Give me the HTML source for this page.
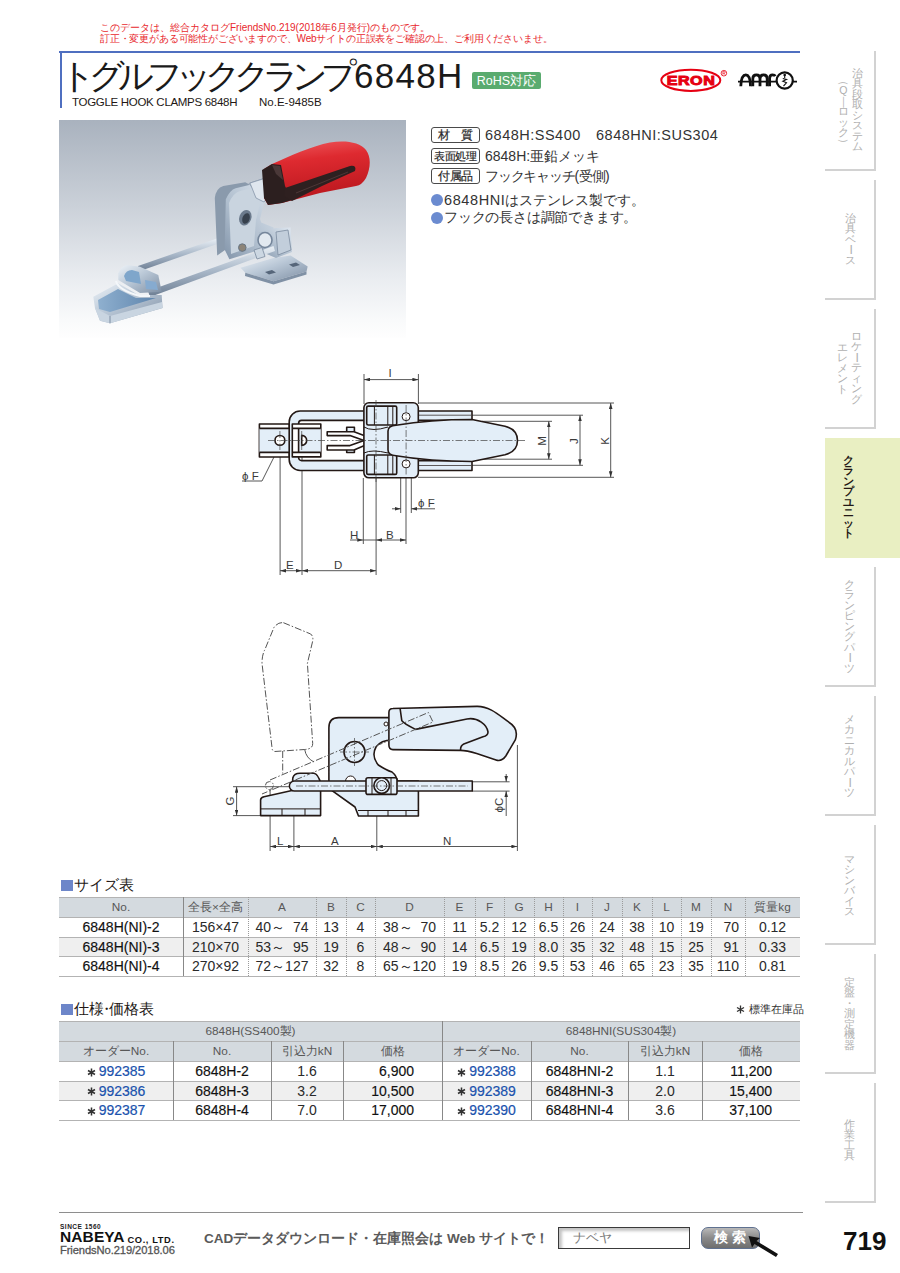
<!DOCTYPE html>
<html><head><meta charset="utf-8">
<style>
*{margin:0;padding:0;box-sizing:border-box}
html,body{width:900px;height:1273px;background:#fff;overflow:hidden}
body{position:relative;font-family:"Liberation Sans",sans-serif;color:#231815}
.a{position:absolute;white-space:nowrap}
.notice{left:100px;top:21.5px;font-size:10px;line-height:11.5px;color:#e8282d}
.title{left:60px;top:56px;font-size:35px;line-height:40px;color:#1a1a1a;letter-spacing:-0.5px}
.sub{left:72px;top:95px;font-size:11.5px;line-height:14px;color:#231815}
.rohs{left:472px;top:72px;width:69px;height:17px;background:#5aab6f;border-radius:2px;color:#fff;font-size:12.5px;line-height:19px;text-align:center}
.tab{position:absolute;left:825px;width:51px;height:120px;border-right:2px solid #d2d2d2;border-bottom:2px solid #d2d2d2}
.tab.on{width:75px;border:none;background:#e9efc2}
.vt{position:absolute;writing-mode:vertical-rl;font-size:10.5px;line-height:13px;color:#b4b4b4;white-space:nowrap}
.lbl{position:absolute;left:431px;width:49px;height:16px;border:1.4px solid #4a4a4a;border-radius:3px;font-size:11.5px;line-height:14.5px;text-align:center;color:#2a2a2a;letter-spacing:-0.5px;-webkit-text-stroke:0.2px #2a2a2a}
.val{position:absolute;left:485px;font-size:14px;line-height:16px;color:#333;white-space:nowrap}
.bul{position:absolute;left:431px;width:12px;height:12px;border-radius:50%;background:#6b8bd0}
.sech{position:absolute;left:61px;font-size:15px;line-height:16px;color:#231815;white-space:nowrap}
.sech i{display:inline-block;width:11.5px;height:11.5px;background:#6d86c9;vertical-align:-1px;margin-right:1px}
table{position:absolute;border-collapse:collapse;table-layout:fixed}
td{padding:0}
.th{font-size:11.8px;line-height:20px;text-align:center;color:#585858}
.td{font-size:14px;line-height:20px;text-align:center;color:#2a2a2a}
.b{color:#111;-webkit-text-stroke:0.15px #111}
.ast{color:#333}
.blu{color:#1a52ad;-webkit-text-stroke:0.2px #1a52ad}
.stk{position:absolute;font-size:10.6px;line-height:10.45px;color:#b0b0b0;text-align:center;width:14px}
</style></head><body>

<div class="a notice">このデータは、総合カタログFriendsNo.219(2018年6月発行)のものです。<br><span style="letter-spacing:-0.17px">訂正・変更がある可能性がございますので、Webサイトの正誤表をご確認の上、ご利用くださいませ。</span></div>

<div class="a" style="left:59px;top:51px;width:741px;height:2px;background:#4f6fc0"></div>
<div class="a" style="left:60px;top:51px;width:2px;height:57px;background:#4f6fc0"></div>

<div class="a title"><span style="letter-spacing:-7px">トグルフッククランプ</span><span style="font-size:35px;letter-spacing:1.3px;position:absolute;left:294px;top:0">6848H</span></div>
<div class="a rohs">RoHS対応</div>
<svg class="a" style="left:650px;top:60px" width="155" height="40" viewBox="650 60 155 40">
<ellipse cx="690.8" cy="80.3" rx="29.5" ry="10.6" fill="#fff" stroke="#e60012" stroke-width="2"/>
<text x="691" y="84.8" text-anchor="middle" font-family="Liberation Sans, sans-serif" font-weight="bold" font-size="12.4" fill="#e60012" stroke="#e60012" stroke-width="0.9" transform="translate(691 0) scale(1.3 1) translate(-691 0)" letter-spacing="0.4">ERON</text>
<circle cx="723.9" cy="73.2" r="2.8" fill="none" stroke="#e60012" stroke-width="0.8"/>
<path d="M722.9,74.8 V71.6 H724.2 Q725.1,71.6 725.1,72.5 Q725.1,73.3 724.2,73.3 H722.9 M724.2,73.3 L725.1,74.8" fill="none" stroke="#e60012" stroke-width="0.6"/>
<g fill="none" stroke="#111" stroke-width="2.8" stroke-linecap="butt">
<path d="M740.8,86.3 Q741.2,74.8 745.8,74.8 Q750.3,74.8 750.5,86.3"/>
<path d="M752.8,86.3 V78.8 Q752.8,74.8 756.4,74.8 Q760,74.8 760,78.8 V86.3 M760,78.8 Q760,74.8 763.6,74.8 Q767.2,74.8 767.2,78.8 V86.3"/>
<path d="M769.6,86.3 V78.5 Q769.6,74.8 772.6,74.8 Q774.6,74.8 775.3,76.2"/>
<circle cx="784.7" cy="80.5" r="8.1" stroke-width="2.2"/>
</g>
<path d="M738,81.7 H777 M792.5,81.7 H797" stroke="#111" stroke-width="1.8"/>
<circle cx="784.7" cy="75" r="1.3" fill="#111"/>
<path d="M784.7,76 V78 M782.8,78.5 L786.5,79.5 L782.8,81.2 L786.5,82.8 L783.5,86" fill="none" stroke="#111" stroke-width="1.1"/>
</svg>
<div class="a sub" style="letter-spacing:-0.3px">TOGGLE HOOK CLAMPS 6848H</div><div class="a sub" style="left:259px">No.E-9485B</div>

<!-- tabs -->
<div class="tab" style="top:51px"></div>
<div class="tab" style="top:180px"></div>
<div class="tab" style="top:309px"></div>
<div class="tab on" style="top:438px"></div>
<div class="tab" style="top:567px"></div>
<div class="tab" style="top:696px"></div>
<div class="tab" style="top:825px"></div>
<div class="tab" style="top:954px"></div>
<div class="tab" style="top:1083px"></div>

<div class="stk" style="left:850.5px;top:68px">治<br>具<br>段<br>取<br>シ<br>ス<br>テ<br>ム</div>
<div class="stk" style="left:836.3px;top:75px"><span style="display:inline-block;transform:rotate(90deg)">（</span><br>Q<br><span style="display:inline-block;">｜</span><br>ロ<br>ッ<br>ク<br><span style="display:inline-block;transform:rotate(90deg)">）</span></div>
<div class="stk" style="left:843.7px;top:213px">治<br>具<br>ベ<br><span style="display:inline-block;transform:rotate(90deg)">ー</span><br>ス</div>
<div class="stk" style="left:849.7px;top:331px">ロ<br>ケ<br><span style="display:inline-block;transform:rotate(90deg)">ー</span><br>テ<br>ィ<br>ン<br>グ</div>
<div class="stk" style="left:835.2px;top:342px">エ<br>レ<br>メ<br>ン<br>ト</div>
<div class="stk" style="left:841.6px;top:455px;color:#231815;font-weight:bold">ク<br>ラ<br>ン<br>プ<br>ユ<br>ニ<br>ッ<br>ト</div>
<div class="stk" style="left:842.3px;top:579px">ク<br>ラ<br>ン<br>ピ<br>ン<br>グ<br>パ<br><span style="display:inline-block;transform:rotate(90deg)">ー</span><br>ツ</div>
<div class="stk" style="left:842.6px;top:714px">メ<br>カ<br>ニ<br>カ<br>ル<br>パ<br><span style="display:inline-block;transform:rotate(90deg)">ー</span><br>ツ</div>
<div class="stk" style="left:842.6px;top:854px">マ<br>シ<br>ン<br>バ<br>イ<br>ス</div>
<div class="stk" style="left:842.6px;top:977px">定<br>盤<br>・<br>測<br>定<br>機<br>器</div>
<div class="stk" style="left:842.6px;top:1119px">作<br>業<br>工<br>具</div>

<!-- spec -->
<div class="lbl" style="top:127px">材　質</div>
<div class="lbl" style="top:148px;font-size:10.6px;letter-spacing:-0.3px">表面処理</div>
<div class="lbl" style="top:168px">付属品</div>
<div class="val" style="top:127px;font-size:14.5px;letter-spacing:0.5px">6848H:SS400</div><div class="val" style="left:596px;top:127px;font-size:14.5px;letter-spacing:0.5px">6848HNI:SUS304</div>
<div class="val" style="top:148px">6848H:亜鉛メッキ</div>
<div class="val" style="top:168px;letter-spacing:-1.2px">フックキャッチ<span style="letter-spacing:0">(</span>受側<span>)</span></div>
<div class="bul" style="top:194.2px"></div>
<div class="bul" style="top:211.6px"></div>
<div class="val" style="left:444px;top:192px"><span style="font-size:14.5px;letter-spacing:0.6px">6848HNI</span>はステンレス製です。</div>
<div class="val" style="left:444px;top:209px;letter-spacing:-0.2px">フックの長さは調節できます。</div>

<svg class="a" style="left:59px;top:120px" width="347" height="218" viewBox="59 120 347 218">
<defs>
<linearGradient id="bg" x1="0" y1="0" x2="0" y2="1">
<stop offset="0" stop-color="#a9b2be"/><stop offset="0.4" stop-color="#cbd1d9"/><stop offset="0.72" stop-color="#e9ecf0"/><stop offset="0.92" stop-color="#f9fafb"/><stop offset="1" stop-color="#fefefe"/>
</linearGradient>
<linearGradient id="red" x1="0" y1="0" x2="0.2" y2="1">
<stop offset="0" stop-color="#ef5a5e"/><stop offset="0.35" stop-color="#de2a30"/><stop offset="1" stop-color="#b8161d"/>
</linearGradient>
<linearGradient id="met" x1="0" y1="0" x2="1" y2="1">
<stop offset="0" stop-color="#eef3f8"/><stop offset="0.45" stop-color="#b9c7d6"/><stop offset="1" stop-color="#7d8ea3"/>
</linearGradient>
<linearGradient id="met3" x1="1" y1="0" x2="0" y2="1">
<stop offset="0" stop-color="#dfe7f0"/><stop offset="0.6" stop-color="#aebdcd"/><stop offset="1" stop-color="#8294a9"/>
</linearGradient>
<linearGradient id="rod" x1="0" y1="0" x2="0" y2="1">
<stop offset="0" stop-color="#e9eff5"/><stop offset="0.5" stop-color="#a7b6c7"/><stop offset="1" stop-color="#6c7d92"/>
</linearGradient>
<linearGradient id="chan" x1="0" y1="0" x2="1" y2="0">
<stop offset="0" stop-color="#8fb0cf"/><stop offset="1" stop-color="#5f85ad"/>
</linearGradient>
</defs>
<rect x="59" y="120" width="347" height="218" fill="url(#bg)"/>
<!-- upper rod -->
<path d="M138,266 L217,238.5 L218.5,243.5 L140,271 Z" fill="url(#rod)"/>
<!-- base plate -->
<path d="M240.5,267.8 L273.5,258 L290.6,255.6 L307.7,266.6 L306.5,271.5 L273.5,281.2 L245.3,272.7 Z" fill="url(#met)"/>
<path d="M245.3,272.7 L273.5,281.2 L306.5,271.5 L306.5,274.5 L273.5,284.5 L245,276 Z" fill="#8091a5"/>
<path d="M265,272 l7,-2 l4,2.5 l-7,2 z M289,264.5 l7,-2 l4,2.5 l-7,2 z" fill="#56667a"/>
<!-- back plate -->
<path d="M214.8,198 Q216,188 223.3,185.9 L245.3,182.2 L252,186 L228,196 L225,250 L217.2,255.6 Z" fill="#8a9aac"/>
<!-- front plate -->
<path d="M225.8,199.3 Q230,190 235.6,188.3 L250.2,184.7 L266.1,194.4 L260,218.9 L261.2,222.6 L273.5,227.5 L276,246 L256.3,251 L229.4,259.2 L224.6,249.5 Z" fill="url(#met3)"/>
<path d="M229,203 Q233,193 240,191 L250,188.5 L262,196 L256,220 L254,246 L231,254 Z" fill="#c9d4df"/>
<ellipse cx="245.3" cy="217.7" rx="6" ry="8" transform="rotate(20 245.3 217.7)" fill="#6b7a8c"/>
<ellipse cx="246" cy="218.5" rx="3.6" ry="5.5" transform="rotate(20 246 218.5)" fill="#37414d"/>
<circle cx="242.3" cy="247.6" r="3.8" fill="#8c8478" stroke="#687684" stroke-width="1"/>
<!-- pivot link -->
<path d="M249,183.4 L267.3,177.3 L270,190 L268.6,198.1 L262,200 L254,190 Z" fill="#d9e1ea" stroke="#8898aa" stroke-width="0.7"/>
<!-- nut / cylinder -->
<path d="M258.8,232.3 L276,228 L290.6,227.5 L292,252 L276,258 L262,252 Z" fill="url(#met3)"/>
<ellipse cx="265" cy="240" rx="7" ry="7.5" fill="#e2e9f0" stroke="#74859a" stroke-width="1.6"/>
<path d="M276,232 L288,230 L291,250 L278,255 Z" fill="#c2cedb" stroke="#7a8a9e" stroke-width="0.8"/>
<!-- lower rod -->
<path d="M148,291 L273.5,246 L275,251 L150,297 Z" fill="url(#rod)"/>
<path d="M254,250 l8,-2.5 l3,9 l-8,2.5 z" fill="#ccd7e2" stroke="#7a8a9e" stroke-width="0.8"/>
<!-- catch channel -->
<path d="M93.3,296.7 L118.3,283.3 L138.3,295 L161.7,295 L162.5,308 L110,323.3 L100,320.8 L95,308.3 Z" fill="url(#met)"/>
<path d="M98,300 L118,289 L136,298 L156,298 L110,312 L99,309 Z" fill="url(#chan)"/>
<path d="M95,308 L110,316 L162,302 L162.5,308 L110,323.3 L100,320.8 Z" fill="#c9d5e1"/>
<path d="M110,316 L110,323.3" stroke="#7c8da2" stroke-width="1"/>
<!-- catch loop bracket -->
<path d="M118.3,273.3 Q121,266 127,265 L140,266.7 L158.3,275 L161.7,291.7 L140,293 L118.3,280 Z" fill="url(#met)"/>
<path d="M124,276 Q126,270 132,270 L139,272 L141,284 L126,281 Z" fill="#7fa6cb"/>
<path d="M145,280 L156,282 L158,290 L146,289 Z" fill="#86abd0"/>
<path d="M116,281 Q118,290 140,296 L150,296" fill="none" stroke="#f4f7fa" stroke-width="2"/>
<!-- pivot link under handle -->
<path d="M250,183 L266,178 L270,194 L264,202 L256,198 Z" fill="#dfe6ee" stroke="#8696a9" stroke-width="0.8"/>
<!-- red handle -->
<path d="M264,169 L272,164 C290,156 312,146 330,142.5 C345,140 360,142 366,150 C371,157 371,167 366,178 Q362,185 356,186 L320,193 L282,203 L268,205 L264,198 Z" fill="url(#red)"/>
<path d="M262,170 L272,164 L281,165 L285,186 L292,200 L282,203 L268,205 L264,198 Z" fill="#2c1f1f"/>
<path d="M285,188 L350,166 Q357,165 355,171 L322,186 L292,201 L284,196 Z" fill="#2e2020"/>
<path d="M272,165 L280,166 L283,180 L276,174 Z" fill="#4a3838"/>
<path d="M296,193 L348,172" stroke="#5a4040" stroke-width="0.7"/>
</svg>

<svg class="a" style="left:0;top:0" width="900" height="1273" viewBox="0 0 900 1273">
<defs>
<marker id="ar" viewBox="0 0 10 6" refX="10" refY="3" markerWidth="6" markerHeight="3.6" orient="auto-start-reverse" markerUnits="userSpaceOnUse"><path d="M0,0 L10,3 L0,6 Z" fill="#333"/></marker>
</defs>
<g fill="none" stroke="#444" stroke-width="0.9">
<!-- ===== TOP VIEW dimension lines ===== -->
<path d="M364,374 V404 M418.4,374 V404"/>
<path d="M364,379.6 H418.4" marker-start="url(#ar)" marker-end="url(#ar)"/>
<path d="M418,403 H614 M418,477.3 H614"/>
<path d="M610.7,403 V477.3" marker-start="url(#ar)" marker-end="url(#ar)"/>
<path d="M472,415.2 H583 M472,465.3 H583"/>
<path d="M580,415.2 V465.3" marker-start="url(#ar)" marker-end="url(#ar)"/>
<path d="M482,421.3 H552 M482,459.2 H552"/>
<path d="M548.8,421.3 V459.2" marker-start="url(#ar)" marker-end="url(#ar)"/>
<path d="M280.1,449 V575 M302,449 V575 M376.1,478 V575"/>
<path d="M280.1,570.7 H302" marker-start="url(#ar)" marker-end="url(#ar)"/>
<path d="M302,570.7 H376.1" marker-start="url(#ar)" marker-end="url(#ar)"/>
<path d="M363.3,478 V544 M406,468 V544"/>
<path d="M350,540 H363.3" marker-end="url(#ar)"/>
<path d="M376.1,540 H406" marker-start="url(#ar)" marker-end="url(#ar)"/>
<path d="M363.3,540 H376.1"/>
<path d="M400.7,468 V513 M411.3,468 V513"/>
<path d="M392,508.8 H400.7" marker-end="url(#ar)"/>
<path d="M435,508.8 H411.3" marker-end="url(#ar)"/>
<path d="M279,447 L262,481 H242"/>
</g>
<g font-family="Liberation Sans, sans-serif" font-size="11.5" fill="#3a3a3a">
<text x="388.5" y="377">I</text>
<text x="606" y="441" transform="rotate(-90 606 441)" text-anchor="middle" dominant-baseline="middle">K</text>
<text x="575" y="441" transform="rotate(-90 575 441)" text-anchor="middle" dominant-baseline="middle">J</text>
<text x="543" y="441" transform="rotate(-90 543 441)" text-anchor="middle" dominant-baseline="middle">M</text>
<text x="286" y="569">E</text>
<text x="334" y="569">D</text>
<text x="350" y="539">H</text>
<text x="386" y="539">B</text>
<text x="418" y="507">ϕ F</text>
<text x="242" y="480">ϕ F</text>
</g>
<!-- ===== TOP VIEW object ===== -->
<g stroke="#231815" stroke-width="1.6" stroke-linejoin="round">
<!-- catch -->
<rect x="259.4" y="424" width="30" height="33" fill="#fff"/>
<rect x="259.4" y="428.4" width="30" height="24" fill="#e3eef8" stroke="none"/>
<path d="M259.4,428.4 H289 M259.4,452.4 H289" fill="none"/>
<circle cx="279.9" cy="440.4" r="4.9" fill="#fff"/>
<!-- body frame -->
<path d="M472,411 H300.2 A11,11 0 0 0 289.2,422 V459.5 A11,11 0 0 0 300.2,470.5 H472 V460.6 H301.6 A3,3 0 0 1 298.6,457.6 V423.4 A3,3 0 0 1 301.6,420.4 H472 Z" fill="#e3eef8"/>
<path d="M418,415.2 H471 M418,465.5 H471" fill="none" stroke-width="0.7"/>
<!-- bracket -->
<rect x="292.3" y="424" width="28.5" height="32.9" fill="#fff"/>
<rect x="298.6" y="428.4" width="22.2" height="24" fill="#e3eef8" stroke="none"/>
<path d="M292.3,428.4 H320.8 M292.3,452.4 H320.8 M298.6,428.4 V452.4" fill="none"/>
<path d="M301.7,435.4 A5,5 0 0 1 301.7,445.4 Z" fill="#fff"/>
<!-- pin Y -->
<path d="M346.7,431.7 V427.2 H354.4 V431.7 M346.7,450 V452.5 H354.4 V450" fill="#e3eef8"/>
<path d="M327.2,431.7 H354 L368,437 H388 V444 H368 L354,450 H327.2 V445.6 H350 L364,440.5 L350,435.6 H327.2 Z" fill="#fff"/>
<rect x="369" y="436.8" width="8" height="7" fill="#fff" stroke-width="1"/>
<!-- nut housing -->
<rect x="363.9" y="402.8" width="54.4" height="75" rx="5" fill="#e3eef8"/>
<path d="M364,427 Q372,432 388,427 M364,453 Q372,449 388,453" fill="none" stroke-width="1"/>
<rect x="366.7" y="406.1" width="30" height="18.9" rx="1.5" fill="#e3eef8"/>
<path d="M374.4,406.1 V425 M387.8,406.1 V425 M392.8,406.1 V425" fill="none" stroke-width="1"/>
<rect x="366.7" y="455" width="30" height="19.4" rx="1.5" fill="#e3eef8"/>
<path d="M374.4,455 V474.4 M387.8,455 V474.4 M392.8,455 V474.4" fill="none" stroke-width="1"/>
<circle cx="406.1" cy="416.7" r="4" fill="#fff" stroke-width="1"/>
<circle cx="406.1" cy="463.9" r="4" fill="#fff" stroke-width="1"/>
<!-- handle -->
<path d="M396,425.2 Q430,419.5 472,419.5 L505,426.2 Q517.5,429.5 517.5,440.5 Q517.5,451.5 505,454.8 L472,461.5 Q430,461.5 396,455.8 Q388,455 388,450 V431 Q388,425.6 396,425.2 Z" fill="#e3eef8"/>
</g>
<g stroke="#444" stroke-width="0.7" fill="none" stroke-dasharray="7 2 1.5 2">
<path d="M268,440.5 H526"/>
<path d="M279.9,431 V450 M301.7,431 V450 M376,400 V482 M406.1,405 V475"/>
</g>

<!-- ===== SIDE VIEW dimension lines ===== -->
<g fill="none" stroke="#444" stroke-width="0.9">
<path d="M233,786.7 H300 M233,815.6 H260"/>
<path d="M236.6,786.7 V815.6" marker-start="url(#ar)" marker-end="url(#ar)"/>
<path d="M270.1,790 V851 M293.9,792 V851 M376.8,816 V851 M517.4,745 V851"/>
<path d="M270.1,846.5 H293.9" marker-start="url(#ar)" marker-end="url(#ar)"/>
<path d="M293.9,846.5 H376.8" marker-start="url(#ar)" marker-end="url(#ar)"/>
<path d="M376.8,846.5 H517.4" marker-start="url(#ar)" marker-end="url(#ar)"/>
<path d="M472,781.8 H509.6 M472,791.1 H509.6"/>
<path d="M506.2,774 V781.8" marker-end="url(#ar)"/>
<path d="M506.2,816 V791.1" marker-end="url(#ar)"/>
</g>
<g font-family="Liberation Sans, sans-serif" font-size="11.5" fill="#3a3a3a">
<text x="231" y="801" transform="rotate(-90 231 801)" text-anchor="middle" dominant-baseline="middle">G</text>
<text x="277" y="845">L</text>
<text x="331" y="845">A</text>
<text x="443" y="845">N</text>
<text x="500" y="805" transform="rotate(-90 500 805)" text-anchor="middle" dominant-baseline="middle">ϕC</text>
</g>
<!-- phantom -->
<g fill="none" stroke="#555" stroke-width="1" stroke-dasharray="7 2 1.5 2">
<path d="M283.4,622.7 L310.7,634 Q313.5,636.5 312.7,641 L307.4,663.4 L312.7,743.5 Q313,749 304.7,749.5 L274.7,751.5 Q272,751 272,747.5 L262,663.4 Q262,655 264.7,650 L274,627.4 Q278,622 283.4,622.7 Z"/>
<path d="M282.7,751 V773.5"/>
<circle cx="269.4" cy="785.6" r="4"/>
</g>
<path d="M304.7,749.5 Q306,758 314,762" fill="none" stroke="#555" stroke-width="1"/>
<g stroke="#231815" stroke-width="1.6" stroke-linejoin="round">
<!-- catch base -->
<path d="M260.6,815.6 V800 Q260.6,797.5 264,796.8 L292,790.5 L292.8,778 Q294,773.3 300,773.3 H314 Q318,774 320.6,783 V815.6 Z" fill="#e3eef8"/>
<path d="M260.6,808.9 H320.6 M282,808.9 V815.6 M305,808.9 V815.6" fill="none" stroke-width="1"/>
<!-- body plate -->
<path d="M338.7,717.6 H392 V740 Q381,740 376,747 Q371,756 378.3,765 Q386,770 392,772 Q397,776 397,781 H418.4 V816 H358.5 L355,807 L328.9,788.3 V727.7 Q328.9,717.6 338.7,717.6 Z" fill="#e3eef8"/>
<path d="M358,810.5 H418.4 M368,810.5 V816 M388,810.5 V816 M406,810.5 V816" fill="none" stroke-width="1"/>
<circle cx="354.5" cy="752" r="10.5" fill="#e3eef8"/>
<circle cx="386" cy="724" r="2" fill="#fff" stroke-width="1"/>
<path d="M345.6,781 A5,5 0 0 1 355.6,781" fill="#fff" stroke-width="1"/>
<!-- lever -->
<path d="M392.9,708.5 L476.7,706.4 C490,706 500,716 508.9,722.2 C515,726 518,732 515.3,739.9 L505.8,756 C503,760 499,761 496,760 L476.7,753.6 C470,751.5 465,750.4 460.6,750.4 L392.9,749.6 Q388.9,749.5 388.9,745 V712.5 Q388.9,708.5 392.9,708.5 Z" fill="#e3eef8"/>
<path d="M400.1,708.5 L401.8,720.6 Q403,723 415.5,729.4 L467,719 C478,717 487,725 488,731.9 C488,734 486,736 483,736.7 L463.8,744 C460,746 460.6,748 460.6,750.4" fill="none"/>
</g><g fill="none" stroke="#555" stroke-width="1" stroke-dasharray="7 2 1.5 2"><path d="M270,780 L428.4,712.5 L433,722 L262,794"/></g><g stroke="#231815" stroke-width="1.6" stroke-linejoin="round">
<!-- rod -->
<path d="M294.4,781.1 H472.3 V791.1 H294.4 A5,5 0 0 1 294.4,781.1 Z" fill="#e3eef8" stroke-width="1.5"/>
<!-- nut -->
<rect x="366" y="777.8" width="31" height="16.6" rx="2" fill="#e3eef8"/>
<path d="M372,777.8 V794.4 M391,777.8 V794.4" fill="none" stroke-width="1"/>
<circle cx="381.7" cy="785.6" r="7.8" fill="#e3eef8"/>
<circle cx="381.7" cy="785.6" r="5" fill="#e3eef8" stroke-width="1"/>
</g>
<g stroke="#444" stroke-width="0.7" fill="none" stroke-dasharray="7 2 1.5 2">
<path d="M296,786 H468 M354.5,738 V766 M340,752 H369"/>
</g>
</svg>


<!-- size table -->
<div class="sech" style="top:877px"><i></i>サイズ表</div>
<div class="a" style="left:59px;top:897px;width:741px;height:20px;background:#d4dadf"></div>
<div class="a" style="left:59px;top:936.5px;width:741px;height:19.5px;background:#efefef"></div>
<div class="a" style="left:59px;top:897px;width:741px;height:1px;background:#b3b3b3"></div>
<div class="a" style="left:59px;top:917px;width:741px;height:1px;background:#b3b3b3"></div>
<div class="a" style="left:59px;top:936.5px;width:741px;height:1px;background:#b3b3b3"></div>
<div class="a" style="left:59px;top:956.0px;width:741px;height:1px;background:#b3b3b3"></div>
<div class="a" style="left:59px;top:976.0px;width:741px;height:1px;background:#b3b3b3"></div>
<div class="a" style="left:183px;top:897px;width:1.2px;height:79.0px;background:#888"></div>
<div class="a" style="left:248px;top:897px;width:0;height:79.0px;border-left:1px dotted #9a9a9a"></div>
<div class="a" style="left:316px;top:897px;width:0;height:79.0px;border-left:1px dotted #9a9a9a"></div>
<div class="a" style="left:346px;top:897px;width:0;height:79.0px;border-left:1px dotted #9a9a9a"></div>
<div class="a" style="left:375px;top:897px;width:0;height:79.0px;border-left:1px dotted #9a9a9a"></div>
<div class="a" style="left:444px;top:897px;width:0;height:79.0px;border-left:1px dotted #9a9a9a"></div>
<div class="a" style="left:475px;top:897px;width:0;height:79.0px;border-left:1px dotted #9a9a9a"></div>
<div class="a" style="left:504px;top:897px;width:0;height:79.0px;border-left:1px dotted #9a9a9a"></div>
<div class="a" style="left:534px;top:897px;width:0;height:79.0px;border-left:1px dotted #9a9a9a"></div>
<div class="a" style="left:563px;top:897px;width:0;height:79.0px;border-left:1px dotted #9a9a9a"></div>
<div class="a" style="left:592px;top:897px;width:0;height:79.0px;border-left:1px dotted #9a9a9a"></div>
<div class="a" style="left:622px;top:897px;width:0;height:79.0px;border-left:1px dotted #9a9a9a"></div>
<div class="a" style="left:652px;top:897px;width:0;height:79.0px;border-left:1px dotted #9a9a9a"></div>
<div class="a" style="left:681px;top:897px;width:0;height:79.0px;border-left:1px dotted #9a9a9a"></div>
<div class="a" style="left:711px;top:897px;width:0;height:79.0px;border-left:1px dotted #9a9a9a"></div>
<div class="a" style="left:745px;top:897px;width:0;height:79.0px;border-left:1px dotted #9a9a9a"></div>
<div class="a th" style="left:59px;top:897px;width:124px;height:20px">No.</div>
<div class="a td b" style="left:59px;top:917px;width:124px;height:19.5px;">6848H(NI)-2</div>
<div class="a td b" style="left:59px;top:936.5px;width:124px;height:19.5px;">6848H(NI)-3</div>
<div class="a td b" style="left:59px;top:956.0px;width:124px;height:20px;">6848H(NI)-4</div>
<div class="a th" style="left:183px;top:897px;width:65px;height:20px">全長×全高</div>
<div class="a td" style="left:183px;top:917px;width:65px;height:19.5px;">156×47</div>
<div class="a td" style="left:183px;top:936.5px;width:65px;height:19.5px;">210×70</div>
<div class="a td" style="left:183px;top:956.0px;width:65px;height:20px;">270×92</div>
<div class="a th" style="left:248px;top:897px;width:68px;height:20px">A</div>
<div class="a td" style="left:248px;top:917px;width:68px;height:19.5px;">40～&nbsp;&nbsp;74</div>
<div class="a td" style="left:248px;top:936.5px;width:68px;height:19.5px;">53～&nbsp;&nbsp;95</div>
<div class="a td" style="left:248px;top:956.0px;width:68px;height:20px;">72～127</div>
<div class="a th" style="left:316px;top:897px;width:30px;height:20px">B</div>
<div class="a td" style="left:316px;top:917px;width:30px;height:19.5px;">13</div>
<div class="a td" style="left:316px;top:936.5px;width:30px;height:19.5px;">19</div>
<div class="a td" style="left:316px;top:956.0px;width:30px;height:20px;">32</div>
<div class="a th" style="left:346px;top:897px;width:29px;height:20px">C</div>
<div class="a td" style="left:346px;top:917px;width:29px;height:19.5px;">4</div>
<div class="a td" style="left:346px;top:936.5px;width:29px;height:19.5px;">6</div>
<div class="a td" style="left:346px;top:956.0px;width:29px;height:20px;">8</div>
<div class="a th" style="left:375px;top:897px;width:69px;height:20px">D</div>
<div class="a td" style="left:375px;top:917px;width:69px;height:19.5px;">38～&nbsp;&nbsp;70</div>
<div class="a td" style="left:375px;top:936.5px;width:69px;height:19.5px;">48～&nbsp;&nbsp;90</div>
<div class="a td" style="left:375px;top:956.0px;width:69px;height:20px;">65～120</div>
<div class="a th" style="left:444px;top:897px;width:31px;height:20px">E</div>
<div class="a td" style="left:444px;top:917px;width:31px;height:19.5px;">11</div>
<div class="a td" style="left:444px;top:936.5px;width:31px;height:19.5px;">14</div>
<div class="a td" style="left:444px;top:956.0px;width:31px;height:20px;">19</div>
<div class="a th" style="left:475px;top:897px;width:29px;height:20px">F</div>
<div class="a td" style="left:475px;top:917px;width:29px;height:19.5px;">5.2</div>
<div class="a td" style="left:475px;top:936.5px;width:29px;height:19.5px;">6.5</div>
<div class="a td" style="left:475px;top:956.0px;width:29px;height:20px;">8.5</div>
<div class="a th" style="left:504px;top:897px;width:30px;height:20px">G</div>
<div class="a td" style="left:504px;top:917px;width:30px;height:19.5px;">12</div>
<div class="a td" style="left:504px;top:936.5px;width:30px;height:19.5px;">19</div>
<div class="a td" style="left:504px;top:956.0px;width:30px;height:20px;">26</div>
<div class="a th" style="left:534px;top:897px;width:29px;height:20px">H</div>
<div class="a td" style="left:534px;top:917px;width:29px;height:19.5px;">6.5</div>
<div class="a td" style="left:534px;top:936.5px;width:29px;height:19.5px;">8.0</div>
<div class="a td" style="left:534px;top:956.0px;width:29px;height:20px;">9.5</div>
<div class="a th" style="left:563px;top:897px;width:29px;height:20px">I</div>
<div class="a td" style="left:563px;top:917px;width:29px;height:19.5px;">26</div>
<div class="a td" style="left:563px;top:936.5px;width:29px;height:19.5px;">35</div>
<div class="a td" style="left:563px;top:956.0px;width:29px;height:20px;">53</div>
<div class="a th" style="left:592px;top:897px;width:30px;height:20px">J</div>
<div class="a td" style="left:592px;top:917px;width:30px;height:19.5px;">24</div>
<div class="a td" style="left:592px;top:936.5px;width:30px;height:19.5px;">32</div>
<div class="a td" style="left:592px;top:956.0px;width:30px;height:20px;">46</div>
<div class="a th" style="left:622px;top:897px;width:30px;height:20px">K</div>
<div class="a td" style="left:622px;top:917px;width:30px;height:19.5px;">38</div>
<div class="a td" style="left:622px;top:936.5px;width:30px;height:19.5px;">48</div>
<div class="a td" style="left:622px;top:956.0px;width:30px;height:20px;">65</div>
<div class="a th" style="left:652px;top:897px;width:29px;height:20px">L</div>
<div class="a td" style="left:652px;top:917px;width:29px;height:19.5px;">10</div>
<div class="a td" style="left:652px;top:936.5px;width:29px;height:19.5px;">15</div>
<div class="a td" style="left:652px;top:956.0px;width:29px;height:20px;">23</div>
<div class="a th" style="left:681px;top:897px;width:30px;height:20px">M</div>
<div class="a td" style="left:681px;top:917px;width:30px;height:19.5px;">19</div>
<div class="a td" style="left:681px;top:936.5px;width:30px;height:19.5px;">25</div>
<div class="a td" style="left:681px;top:956.0px;width:30px;height:20px;">35</div>
<div class="a th" style="left:711px;top:897px;width:34px;height:20px">N</div>
<div class="a td" style="left:711px;top:917px;width:34px;height:19.5px;text-align:right;padding-right:6px;">70</div>
<div class="a td" style="left:711px;top:936.5px;width:34px;height:19.5px;text-align:right;padding-right:6px;">91</div>
<div class="a td" style="left:711px;top:956.0px;width:34px;height:20px;text-align:right;padding-right:6px;">110</div>
<div class="a th" style="left:745px;top:897px;width:55px;height:20px">質量kg</div>
<div class="a td" style="left:745px;top:917px;width:55px;height:19.5px;">0.12</div>
<div class="a td" style="left:745px;top:936.5px;width:55px;height:19.5px;">0.33</div>
<div class="a td" style="left:745px;top:956.0px;width:55px;height:20px;">0.81</div>

<div class="sech" style="top:1001px"><i></i>仕様<span style="margin:0 -5px">・</span>価格表</div>
<div class="a" style="left:736px;top:1003px;font-size:11px;line-height:13px;color:#333"><svg width="9" height="9" viewBox="-4.5 -4.5 9 9" style="vertical-align:-0.5px;margin-right:4px"><path d="M0,-4 V4 M-3.5,-2 L3.5,2 M-3.5,2 L3.5,-2" stroke="#333" stroke-width="1.3"/></svg>標準在庫品</div>
<div class="a" style="left:59px;top:1021px;width:741px;height:40px;background:#d4dadf"></div>
<div class="a" style="left:59px;top:1080.5px;width:741px;height:19.5px;background:#efefef"></div>
<div class="a" style="left:59px;top:1021px;width:741px;height:1px;background:#b3b3b3"></div>
<div class="a" style="left:59px;top:1041px;width:741px;height:1px;background:#b3b3b3"></div>
<div class="a" style="left:59px;top:1061px;width:741px;height:1px;background:#b3b3b3"></div>
<div class="a" style="left:59px;top:1080.5px;width:741px;height:1px;background:#b3b3b3"></div>
<div class="a" style="left:59px;top:1100.0px;width:741px;height:1px;background:#b3b3b3"></div>
<div class="a" style="left:59px;top:1120.0px;width:741px;height:1px;background:#b3b3b3"></div>
<div class="a" style="left:173px;top:1041px;width:1.2px;height:79.0px;background:#888"></div>
<div class="a" style="left:271px;top:1041px;width:1.2px;height:79.0px;background:#888"></div>
<div class="a" style="left:343px;top:1041px;width:1.2px;height:79.0px;background:#888"></div>
<div class="a" style="left:442px;top:1021px;width:1.2px;height:99.0px;background:#888"></div>
<div class="a" style="left:531px;top:1041px;width:1.2px;height:79.0px;background:#888"></div>
<div class="a" style="left:628px;top:1041px;width:1.2px;height:79.0px;background:#888"></div>
<div class="a" style="left:702px;top:1041px;width:1.2px;height:79.0px;background:#888"></div>
<div class="a th" style="left:59px;top:1021px;width:383px;height:20px">6848H(SS400製)</div>
<div class="a th" style="left:442px;top:1021px;width:358px;height:20px">6848HNI(SUS304製)</div>
<div class="a th" style="left:59px;top:1041px;width:114px;height:20px">オーダーNo.</div>
<div class="a td" style="left:59px;top:1061px;width:114px;height:19.5px"><svg width="9" height="9" viewBox="-4.5 -4.5 9 9" style="vertical-align:-0.5px;margin-right:3px"><path d="M0,-4 V4 M-3.5,-2 L3.5,2 M-3.5,2 L3.5,-2" stroke="#333" stroke-width="1.5"/></svg><span class="blu">992385</span></div>
<div class="a td" style="left:59px;top:1080.5px;width:114px;height:19.5px"><svg width="9" height="9" viewBox="-4.5 -4.5 9 9" style="vertical-align:-0.5px;margin-right:3px"><path d="M0,-4 V4 M-3.5,-2 L3.5,2 M-3.5,2 L3.5,-2" stroke="#333" stroke-width="1.5"/></svg><span class="blu">992386</span></div>
<div class="a td" style="left:59px;top:1100.0px;width:114px;height:20px"><svg width="9" height="9" viewBox="-4.5 -4.5 9 9" style="vertical-align:-0.5px;margin-right:3px"><path d="M0,-4 V4 M-3.5,-2 L3.5,2 M-3.5,2 L3.5,-2" stroke="#333" stroke-width="1.5"/></svg><span class="blu">992387</span></div>
<div class="a th" style="left:173px;top:1041px;width:98px;height:20px">No.</div>
<div class="a td b" style="left:173px;top:1061px;width:98px;height:19.5px">6848H-2</div>
<div class="a td b" style="left:173px;top:1080.5px;width:98px;height:19.5px">6848H-3</div>
<div class="a td b" style="left:173px;top:1100.0px;width:98px;height:20px">6848H-4</div>
<div class="a th" style="left:271px;top:1041px;width:72px;height:20px">引込力kN</div>
<div class="a td" style="left:271px;top:1061px;width:72px;height:19.5px">1.6</div>
<div class="a td" style="left:271px;top:1080.5px;width:72px;height:19.5px">3.2</div>
<div class="a td" style="left:271px;top:1100.0px;width:72px;height:20px">7.0</div>
<div class="a th" style="left:343px;top:1041px;width:99px;height:20px">価格</div>
<div class="a td b" style="left:343px;top:1061px;width:99px;height:19.5px;text-align:right;padding-right:28px">6,900</div>
<div class="a td b" style="left:343px;top:1080.5px;width:99px;height:19.5px;text-align:right;padding-right:28px">10,500</div>
<div class="a td b" style="left:343px;top:1100.0px;width:99px;height:20px;text-align:right;padding-right:28px">17,000</div>
<div class="a th" style="left:442px;top:1041px;width:89px;height:20px">オーダーNo.</div>
<div class="a td" style="left:442px;top:1061px;width:89px;height:19.5px"><svg width="9" height="9" viewBox="-4.5 -4.5 9 9" style="vertical-align:-0.5px;margin-right:3px"><path d="M0,-4 V4 M-3.5,-2 L3.5,2 M-3.5,2 L3.5,-2" stroke="#333" stroke-width="1.5"/></svg><span class="blu">992388</span></div>
<div class="a td" style="left:442px;top:1080.5px;width:89px;height:19.5px"><svg width="9" height="9" viewBox="-4.5 -4.5 9 9" style="vertical-align:-0.5px;margin-right:3px"><path d="M0,-4 V4 M-3.5,-2 L3.5,2 M-3.5,2 L3.5,-2" stroke="#333" stroke-width="1.5"/></svg><span class="blu">992389</span></div>
<div class="a td" style="left:442px;top:1100.0px;width:89px;height:20px"><svg width="9" height="9" viewBox="-4.5 -4.5 9 9" style="vertical-align:-0.5px;margin-right:3px"><path d="M0,-4 V4 M-3.5,-2 L3.5,2 M-3.5,2 L3.5,-2" stroke="#333" stroke-width="1.5"/></svg><span class="blu">992390</span></div>
<div class="a th" style="left:531px;top:1041px;width:97px;height:20px">No.</div>
<div class="a td b" style="left:531px;top:1061px;width:97px;height:19.5px">6848HNI-2</div>
<div class="a td b" style="left:531px;top:1080.5px;width:97px;height:19.5px">6848HNI-3</div>
<div class="a td b" style="left:531px;top:1100.0px;width:97px;height:20px">6848HNI-4</div>
<div class="a th" style="left:628px;top:1041px;width:74px;height:20px">引込力kN</div>
<div class="a td" style="left:628px;top:1061px;width:74px;height:19.5px">1.1</div>
<div class="a td" style="left:628px;top:1080.5px;width:74px;height:19.5px">2.0</div>
<div class="a td" style="left:628px;top:1100.0px;width:74px;height:20px">3.6</div>
<div class="a th" style="left:702px;top:1041px;width:98px;height:20px">価格</div>
<div class="a td b" style="left:702px;top:1061px;width:98px;height:19.5px;text-align:right;padding-right:28px">11,200</div>
<div class="a td b" style="left:702px;top:1080.5px;width:98px;height:19.5px;text-align:right;padding-right:28px">15,400</div>
<div class="a td b" style="left:702px;top:1100.0px;width:98px;height:20px;text-align:right;padding-right:28px">37,100</div>

<!-- footer -->
<div class="a" style="left:59px;top:1211.5px;width:744px;height:1px;background:#8e8e8e"></div>
<div class="a" style="left:60px;top:1222.5px;font-size:6.5px;line-height:8px;font-weight:bold;letter-spacing:0.5px;color:#222">SINCE 1560</div>
<div class="a" style="left:60px;top:1228.5px;font-size:15.5px;line-height:16px;font-weight:bold;letter-spacing:0.1px;color:#111">NABEYA</div>
<div class="a" style="left:127.5px;top:1234px;font-size:9.3px;line-height:12px;font-weight:bold;letter-spacing:0.6px;color:#111">CO., LTD.</div>
<div class="a" style="left:60px;top:1244px;font-size:11.2px;line-height:13px;letter-spacing:-0.1px;color:#555;-webkit-text-stroke:0.3px #555">FriendsNo.219/2018.06</div>
<div class="a" style="left:204px;top:1230px;font-size:13.5px;line-height:17px;font-weight:bold;color:#5a5a5a">CADデータダウンロード・在庫照会は Web サイトで！</div>
<div class="a" style="left:558px;top:1227px;width:132px;height:21.5px;border:1.5px solid #3a3a3a;box-shadow:inset 3px 3px 3px #c4c4c4;font-size:13px;line-height:19px;color:#7a7a7a;padding-left:14px">ナベヤ</div>
<div class="a" style="left:700.5px;top:1227px;width:59px;height:21.5px;border-radius:7px;background:linear-gradient(#b9b9b9,#8a8a8a 50%,#6e6e6e);border:1px solid #5f7190;color:#fff;font-weight:bold;font-size:14px;line-height:19px;text-align:center;letter-spacing:4px;padding-left:3px">検索</div>
<svg class="a" style="left:744px;top:1230px" width="40" height="30" viewBox="744 1230 40 30"><path d="M748.5,1236 L760,1238 L756.5,1241 L778,1254 L776,1257 L754.5,1244 L752,1247.5 Z" fill="#111"/></svg>
<div class="a" style="left:843px;top:1228px;font-size:26px;line-height:26px;font-weight:bold;color:#111">719</div>

</body></html>
